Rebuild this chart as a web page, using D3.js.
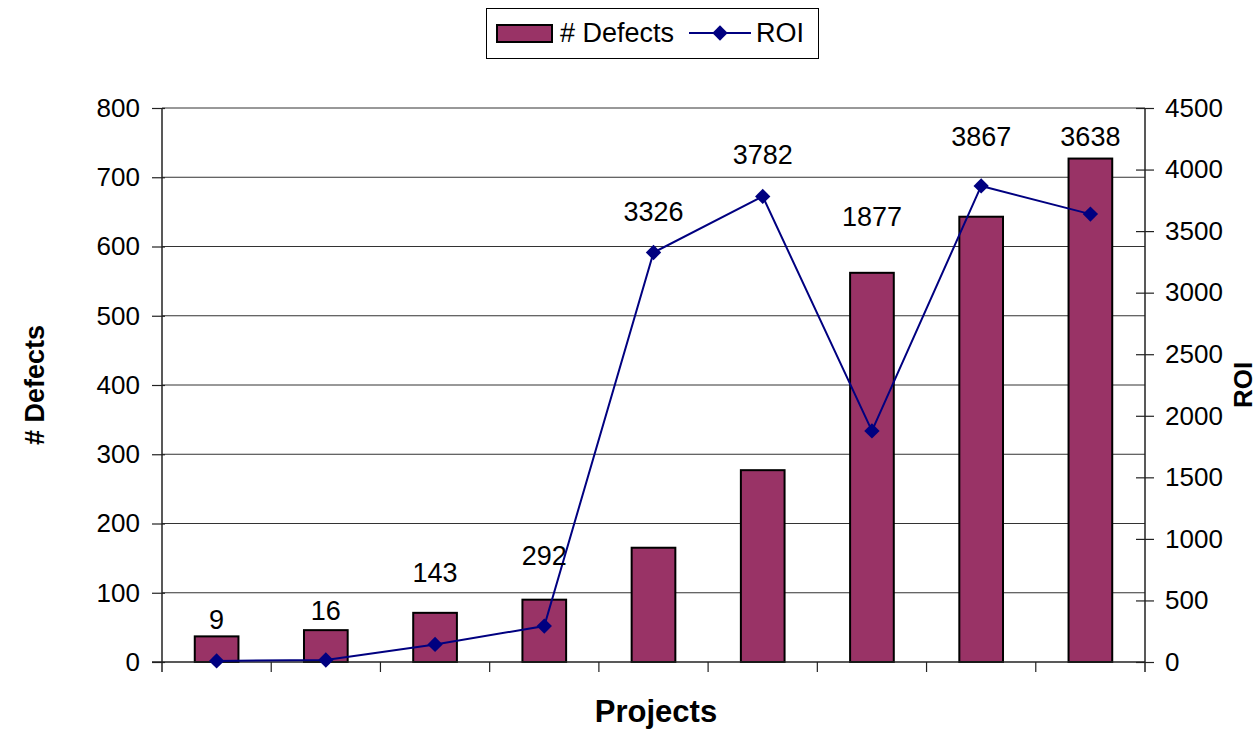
<!DOCTYPE html>
<html>
<head>
<meta charset="utf-8">
<script src="https://cdn.jsdelivr.net/npm/d3@7"></script>
<style>
  html, body { margin: 0; padding: 0; background: #fff; overflow: hidden; }
  svg { display: block; font-family: "Liberation Sans", Arial, sans-serif; }
</style>
</head>
<body>
<svg id="chart" width="1260" height="729"></svg>
<script>
// Projects (unnamed categories on the x axis)
const projects = ["P1", "P2", "P3", "P4", "P5", "P6", "P7", "P8", "P9"];
// Number of defects per project (left axis)
const defects = [37, 46, 71, 90, 165, 277, 562, 643, 727];
// Return on investment per project (right axis)
const roi = [9, 16, 143, 292, 3326, 3782, 1877, 3867, 3638];
// Axis ticks
const defectTicks = [0, 100, 200, 300, 400, 500, 600, 700, 800];
const roiTicks = [0, 500, 1000, 1500, 2000, 2500, 3000, 3500, 4000, 4500];

// How far each ROI label sits above the higher of its bar top and its marker (px)
const labelLift = [17, 20, 40, 44, 41, 42, 56, 49, 22];

const svg = d3.select("#chart");
const plot = { left: 162, right: 1145, top: 108, bottom: 662 };

const x = d3.scaleBand().domain(projects)
  .range([plot.left, plot.right]).paddingInner(0.6).paddingOuter(0.3);
const xCat = d3.scaleBand().domain(projects).range([plot.left, plot.right]);
const yL = d3.scaleLinear().domain([0, 800]).range([plot.bottom, plot.top]);
const yR = d3.scaleLinear().domain([0, 4500]).range([plot.bottom, plot.top]);

const axisColor = "#222";
const tickFont = 26;

// Horizontal gridlines
svg.append("g").selectAll("line").data(defectTicks.filter(d => d > 0)).join("line")
  .attr("x1", plot.left).attr("x2", plot.right)
  .attr("y1", d => yL(d)).attr("y2", d => yL(d))
  .attr("stroke", "#333").attr("stroke-width", 1);

// Bars
svg.append("g").selectAll("rect").data(projects).join("rect")
  .attr("x", d => x(d))
  .attr("width", x.bandwidth())
  .attr("y", (d, i) => yL(defects[i]))
  .attr("height", (d, i) => yL(0) - yL(defects[i]))
  .attr("fill", "#993366")
  .attr("stroke", "#000").attr("stroke-width", 2);

// Left axis
const leftAxis = svg.append("g").attr("transform", `translate(${plot.left},0)`)
  .call(d3.axisLeft(yL).tickValues(defectTicks).tickFormat(d3.format("d")).tickSize(10).tickPadding(12));
leftAxis.select(".domain").remove();
leftAxis.append("line").attr("x1", 0).attr("x2", 0)
  .attr("y1", plot.top).attr("y2", plot.bottom + 10).attr("stroke", axisColor).attr("stroke-width", 1.5);
leftAxis.selectAll(".tick line").attr("x2", -10).attr("x1", 3).attr("stroke", axisColor).attr("stroke-width", 1.2);
leftAxis.selectAll(".tick text").attr("font-size", tickFont).attr("fill", "#000");

// Right axis
const rightAxis = svg.append("g").attr("transform", `translate(${plot.right},0)`)
  .call(d3.axisRight(yR).tickValues(roiTicks).tickFormat(d3.format("d")).tickSize(9).tickPadding(11));
rightAxis.select(".domain").remove();
rightAxis.append("line").attr("x1", 0).attr("x2", 0)
  .attr("y1", plot.top).attr("y2", plot.bottom + 10).attr("stroke", axisColor).attr("stroke-width", 1.5);
rightAxis.selectAll(".tick line").attr("x1", -9).attr("stroke", axisColor).attr("stroke-width", 1.2);
rightAxis.selectAll(".tick text").attr("font-size", tickFont).attr("fill", "#000").attr("text-anchor", "start");

// Bottom axis with category separators
svg.append("line").attr("x1", plot.left - 10).attr("x2", plot.right)
  .attr("y1", plot.bottom).attr("y2", plot.bottom)
  .attr("stroke", axisColor).attr("stroke-width", 1.5);
svg.append("g").selectAll("line").data(projects.slice(1)).join("line")
  .attr("x1", d => xCat(d)).attr("x2", d => xCat(d))
  .attr("y1", plot.bottom).attr("y2", plot.bottom + 10)
  .attr("stroke", axisColor).attr("stroke-width", 1.2);

// ROI line
const cx = d => x(d) + x.bandwidth() / 2;
const line = d3.line().x((d, i) => cx(projects[i])).y(d => yR(d));
svg.append("path").datum(roi)
  .attr("d", line).attr("fill", "none")
  .attr("stroke", "#000080").attr("stroke-width", 2);

const diamond = d3.symbol().type(d3.symbolDiamond2).size(150);
svg.append("g").selectAll("path").data(roi).join("path")
  .attr("transform", (d, i) => `translate(${cx(projects[i])},${yR(d)})`)
  .attr("d", diamond).attr("fill", "#000080");

// ROI value labels
svg.append("g").selectAll("text").data(roi).join("text")
  .attr("x", (d, i) => cx(projects[i]))
  .attr("y", (d, i) => Math.min(yR(d), yL(defects[i])) - labelLift[i])
  .attr("dy", "0.35em")
  .attr("text-anchor", "middle").attr("font-size", 27).attr("fill", "#000")
  .text(d => d);

// Axis titles
svg.append("text")
  .attr("transform", `translate(44,385) rotate(-90)`)
  .attr("text-anchor", "middle").attr("font-size", 27).attr("font-weight", "bold")
  .text("# Defects");
svg.append("text")
  .attr("transform", `translate(1252,385) rotate(-90)`)
  .attr("text-anchor", "middle").attr("font-size", 26).attr("font-weight", "bold")
  .text("ROI");
svg.append("text")
  .attr("x", 656).attr("y", 722)
  .attr("text-anchor", "middle").attr("font-size", 31).attr("font-weight", "bold")
  .text("Projects");

// Legend
const lg = svg.append("g");
lg.append("rect").attr("x", 486.5).attr("y", 8.5).attr("width", 332).attr("height", 50)
  .attr("fill", "#fff").attr("stroke", "#000").attr("stroke-width", 1);
lg.append("rect").attr("x", 497).attr("y", 25).attr("width", 55).attr("height", 17)
  .attr("fill", "#993366").attr("stroke", "#000").attr("stroke-width", 2);
lg.append("text").attr("x", 560).attr("y", 42).attr("font-size", 27).text("# Defects");
lg.append("line").attr("x1", 689).attr("x2", 751).attr("y1", 33).attr("y2", 33)
  .attr("stroke", "#000080").attr("stroke-width", 2);
lg.append("path").attr("transform", "translate(720,33)").attr("d", diamond).attr("fill", "#000080");
lg.append("text").attr("x", 756).attr("y", 42).attr("font-size", 27).text("ROI");
</script>
</body>
</html>
